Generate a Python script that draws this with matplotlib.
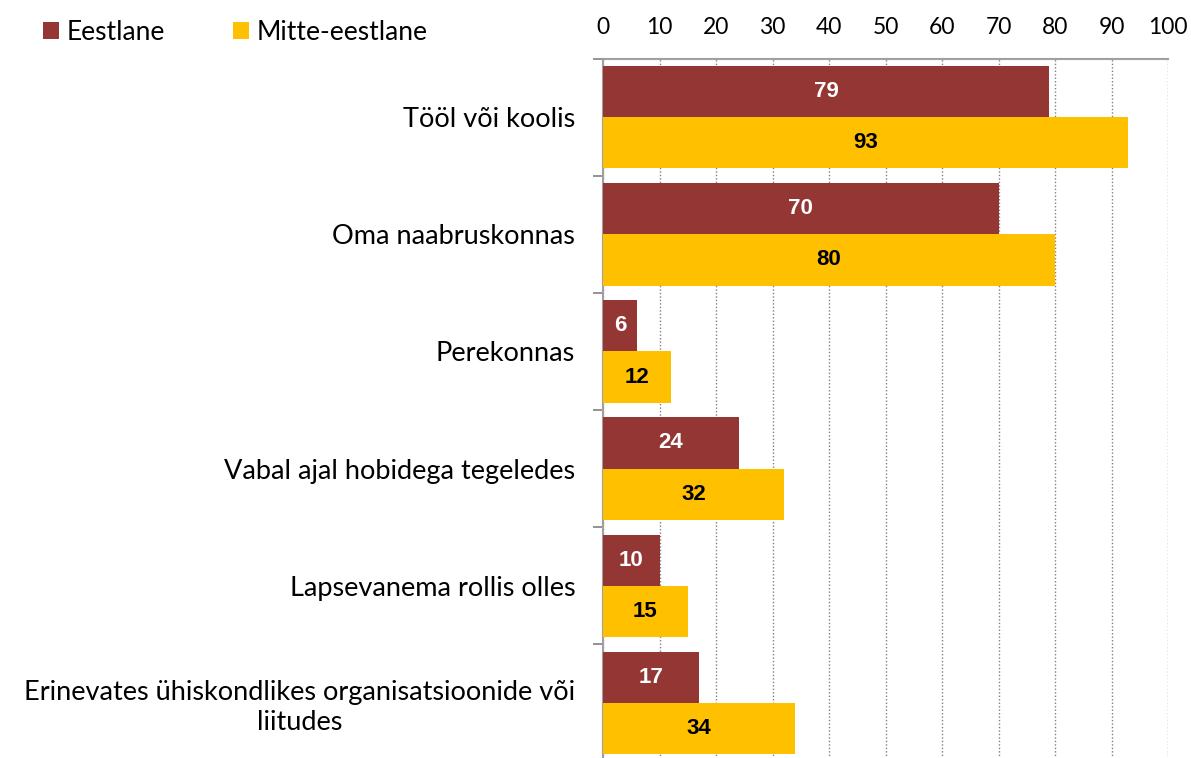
import numpy as np
import matplotlib.pyplot as plt

categories = ['Tööl või koolis', 'Oma naabruskonnas', 'Perekonnas',
              'Vabal ajal hobidega tegeledes', 'Lapsevanema rollis olles',
              'Erinevates ühiskondlikes organisatsioonide või\nliitudes']
eestlane = [79, 70, 6, 24, 10, 17]
mitte = [93, 80, 12, 32, 15, 34]
series_names = ['Eestlane', 'Mitte-eestlane']
colors = ['#943634', '#FFC000']

plt.rcParams['font.family'] = ['Lato', 'DejaVu Sans']

fig = plt.figure(figsize=(11.91, 7.58), dpi=100)
ax = fig.add_axes([0.5063, -0.004, 0.4744, 0.9262])

y = np.arange(len(categories))
h = 0.436
b1 = ax.barh(y - h / 2, eestlane, height=h, color=colors[0], label=series_names[0], zorder=3)
b2 = ax.barh(y + h / 2, mitte, height=h, color=colors[1], label=series_names[1], zorder=3)

for bars, vals, c in [(b1, eestlane, 'white'), (b2, mitte, 'black')]:
    for bar, v in zip(bars, vals):
        ax.text(bar.get_width() / 2, bar.get_y() + bar.get_height() / 2, str(v),
                ha='center', va='center', color=c, fontsize=16, fontweight='bold',
                family='Liberation Sans', zorder=4)

ax.set_xlim(0, 100)
ax.set_ylim(len(categories) - 0.5, -0.5)
ax.xaxis.tick_top()
ax.set_xticks(range(0, 101, 10))
ax.tick_params(axis='x', length=0, pad=15, labelsize=16.5)
ax.set_yticks(y)
ax.set_yticklabels(categories, fontsize=19.5, multialignment='center', linespacing=1.25)
ax.tick_params(axis='y', which='major', length=0, pad=20)
ax.set_yticks(np.arange(-0.5, len(categories) + 0.5, 1), minor=True)
ax.tick_params(axis='y', which='minor', length=7, color='#808080', width=1.2)

ax.grid(axis='x', linestyle=(0, (1, 1.5)), color='#808080', linewidth=1, zorder=0)
for s in ['right', 'bottom']:
    ax.spines[s].set_visible(False)
for s in ['top', 'left']:
    ax.spines[s].set_color('#a0a0a0')
    ax.spines[s].set_linewidth(1.5)

fig.legend(handles=[b1, b2], loc='upper left', bbox_to_anchor=(0.016, 1.005), ncol=2,
           frameon=False, fontsize=19, handlelength=0.6, handleheight=0.6,
           handletextpad=0.3, columnspacing=2.58)

fig.savefig('out.png', dpi=100)
